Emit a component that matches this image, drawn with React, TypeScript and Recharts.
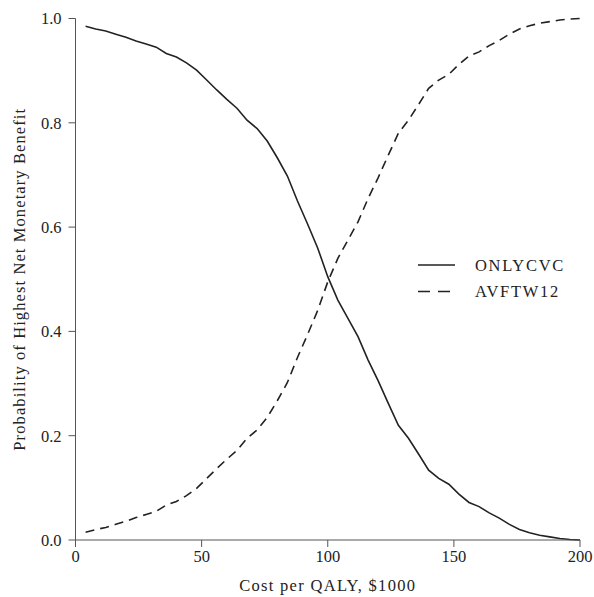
import React from "react";
import { LineChart, Line, XAxis, YAxis, Label } from "recharts";

// ── Data ──────────────────────────────────────────────────────────────────────

const COST = [
    4, 8, 12, 16, 20, 24, 28, 32, 36, 40, 44, 48, 52, 56, 60, 64, 68, 72, 76, 80,
    84, 88, 92, 96, 100, 104, 108, 112, 116, 120, 124, 128, 132, 136, 140, 144, 148, 152, 156, 160,
    164, 168, 172, 176, 180, 184, 188, 192, 196, 200,
];
const ONLYCVC = [
    0.985, 0.98, 0.976, 0.97, 0.964, 0.957, 0.951, 0.945, 0.933, 0.926, 0.915, 0.901, 0.882, 0.863, 0.845, 0.828, 0.805, 0.789, 0.765, 0.733,
    0.698, 0.65, 0.606, 0.56, 0.505, 0.46, 0.425, 0.39, 0.345, 0.305, 0.262, 0.22, 0.195, 0.165, 0.134, 0.118, 0.107, 0.088, 0.072, 0.064,
    0.052, 0.042, 0.03, 0.02, 0.014, 0.009, 0.006, 0.003, 0.001, 0.0,
];
const AVFTW12 = [
    0.015, 0.02, 0.024, 0.03, 0.036, 0.043, 0.049, 0.055, 0.067, 0.074, 0.085, 0.099, 0.118, 0.137, 0.155, 0.172, 0.195, 0.211, 0.235, 0.267,
    0.302, 0.35, 0.394, 0.44, 0.495, 0.54, 0.575, 0.61, 0.655, 0.695, 0.738, 0.78, 0.805, 0.835, 0.866, 0.882, 0.893, 0.912, 0.928, 0.936,
    0.948, 0.958, 0.97, 0.98, 0.986, 0.991, 0.994, 0.997, 0.999, 1.0,
];
const X_TICKS = [0, 50, 100, 150, 200];
const Y_TICKS = [0, 0.2, 0.4, 0.6, 0.8, 1.0];
const SERIES = ["ONLYCVC", "AVFTW12"];

const rows = COST.map((c, i) => ({ cost: c, onlycvc: ONLYCVC[i], avftw12: AVFTW12[i] }));

const FONT = "'Liberation Serif', serif";
const INK = "#222";
const AXIS = "#555";
const TICK = { fill: INK, fontSize: 16.5, fontFamily: FONT };
const LABEL = { fill: INK, fontSize: 16.5, fontFamily: FONT, letterSpacing: 1.3 };
const DASHES = [undefined, "12 8"];

// ── Legend (drawn over the plot, kept out of the chart's layout) ──────────────

function KeyBox() {
    return (
        <svg width={170} height={56} style={{ position: "absolute", left: 418, top: 253 }}>
            {SERIES.map((name, i) => (
                <g key={name} transform={`translate(0, ${12 + i * 26.5})`}>
                    <line x1={0} x2={37} y1={0} y2={0} stroke={INK} strokeWidth={1.6} strokeDasharray={DASHES[i]} />
                    <text x={57} y={5.5} fontFamily={FONT} fontSize={16.5} fill={INK} letterSpacing={1.7}>{name}</text>
                </g>
            ))}
        </svg>
    );
}

// ── Chart ─────────────────────────────────────────────────────────────────────

export default function App() {
    return (
        <div style={{ position: "absolute", left: 0, top: 0, width: 594, height: 597, background: "#fff" }}>
            <LineChart width={594} height={597} data={rows} margin={{ top: 18.5, right: 14, left: 0, bottom: 0 }}>
                <XAxis dataKey="cost" type="number" domain={[0, 200]} ticks={X_TICKS}
                    tick={TICK} tickSize={7} tickMargin={3} height={57}
                    stroke={AXIS} tickLine={{ stroke: AXIS }}>
                    <Label value="Cost per QALY, $1000" position="insideBottom" offset={6} style={LABEL} />
                </XAxis>
                <YAxis type="number" domain={[0, 1]} ticks={Y_TICKS} tickFormatter={v => v.toFixed(1)}
                    tick={TICK} tickSize={7} tickMargin={7} width={75.5}
                    stroke={AXIS} tickLine={{ stroke: AXIS }}>
                    <Label value="Probability of Highest Net Monetary Benefit" angle={-90} position="insideLeft" offset={19}
                        style={{ ...LABEL, letterSpacing: 1.1, textAnchor: "middle" }} />
                </YAxis>
                <Line type="linear" dataKey="onlycvc" name={SERIES[0]} stroke={INK} strokeWidth={1.6} dot={false} isAnimationActive={false} />
                <Line type="linear" dataKey="avftw12" name={SERIES[1]} stroke={INK} strokeWidth={1.6} strokeDasharray="9 6" dot={false} isAnimationActive={false} />
            </LineChart>
            <KeyBox />
        </div>
    );
}
